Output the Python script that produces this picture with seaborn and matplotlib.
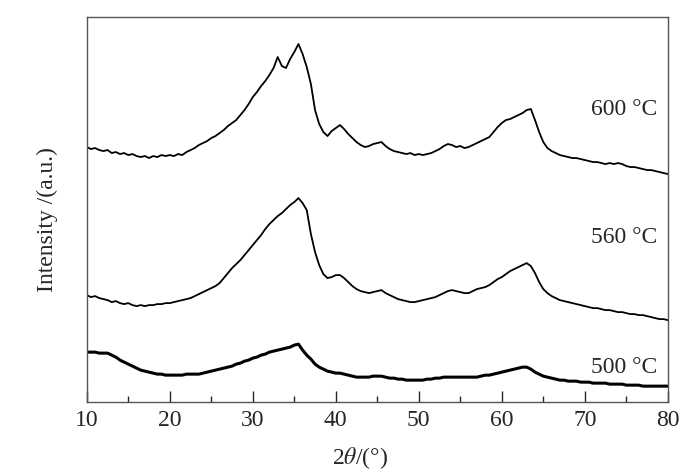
import numpy as np
import pandas as pd
import matplotlib
matplotlib.use('Agg')
import matplotlib.pyplot as plt
import seaborn as sns

# 2theta scan, 0.5 deg steps
two_theta = np.arange(10, 80.5, 0.5)

# intensities (arbitrary units, stacked)
i600 = [255, 253, 254, 252, 251, 252, 249, 250, 248, 249, 247, 248, 246, 245, 246, 244,
        246, 245, 247, 246, 247, 246, 248, 247, 250, 252, 254, 257, 259, 261, 264, 266,
        269, 272, 276, 279, 282, 287, 292, 298, 305, 310, 316, 321, 327, 334, 345, 336,
        334, 343, 350, 358, 348, 335, 318, 292, 278, 270, 266, 271, 274, 277, 273, 268,
        264, 260, 257, 255, 256, 258, 259, 260, 256, 253, 251, 250, 249, 248, 249, 247,
        248, 247, 248, 249, 251, 253, 256, 258, 257, 255, 256, 254, 255, 257, 259, 261,
        263, 265, 270, 275, 279, 282, 283, 285, 287, 289, 292, 293, 282, 270, 260, 254,
        251, 249, 247, 246, 245, 244, 244, 243, 242, 241, 240, 240, 239, 238, 239, 238,
        239, 238, 236, 235, 235, 234, 233, 232, 232, 231, 230, 229, 228]
i560 = [107, 105, 106, 104, 103, 102, 100, 101, 99, 98, 99, 97, 96, 97, 96, 97,
        97, 98, 98, 99, 99, 100, 101, 102, 103, 104, 106, 108, 110, 112, 114, 116,
        119, 124, 129, 134, 138, 142, 147, 152, 157, 162, 167, 173, 178, 182, 186, 189,
        193, 197, 200, 204, 199, 192, 168, 150, 137, 128, 124, 125, 127, 127, 124, 120,
        116, 113, 111, 110, 109, 110, 111, 112, 109, 107, 105, 103, 102, 101, 100, 100,
        101, 102, 103, 104, 105, 107, 109, 111, 112, 111, 110, 109, 109, 111, 113, 114,
        115, 117, 120, 123, 125, 128, 131, 133, 135, 137, 139, 136, 129, 120, 113, 109,
        106, 104, 102, 101, 100, 99, 98, 97, 96, 95, 94, 94, 93, 92, 92, 91,
        90, 90, 89, 88, 88, 87, 87, 86, 85, 84, 83, 83, 82]
i500 = [50, 50, 50, 49, 49, 49, 47, 45, 42, 40, 38, 36, 34, 32, 31, 30,
        29, 28, 28, 27, 27, 27, 27, 27, 28, 28, 28, 28, 29, 30, 31, 32,
        33, 34, 35, 36, 38, 39, 41, 42, 44, 45, 47, 48, 50, 51, 52, 53,
        54, 55, 57, 58, 52, 47, 43, 38, 35, 33, 31, 30, 29, 29, 28, 27,
        26, 25, 25, 25, 25, 26, 26, 26, 25, 24, 24, 23, 23, 22, 22, 22,
        22, 22, 23, 23, 24, 24, 25, 25, 25, 25, 25, 25, 25, 25, 25, 26,
        27, 27, 28, 29, 30, 31, 32, 33, 34, 35, 35, 33, 30, 28, 26, 25,
        24, 23, 22, 22, 21, 21, 21, 20, 20, 20, 19, 19, 19, 19, 18, 18,
        18, 18, 17, 17, 17, 17, 16, 16, 16, 16, 16, 16, 16]

labels = ['600 °C', '560 °C', '500 °C']
label_y = [293, 165, 35]

sns.set_style('white')
plt.rcParams['font.family'] = ['Liberation Serif', 'DejaVu Serif', 'Noto Sans CJK SC']
plt.rcParams['mathtext.fontset'] = 'stix'

df = pd.DataFrame({'x': two_theta, '600': i600, '560': i560, '500': i500})

fig = plt.figure(figsize=(7, 4.72), dpi=100)
ax = fig.add_axes([0.124, 0.148, 0.83, 0.816])

sns.lineplot(data=df, x='x', y='600', ax=ax, color='black', linewidth=1.3)
sns.lineplot(data=df, x='x', y='560', ax=ax, color='black', linewidth=1.3)
sns.lineplot(data=df, x='x', y='500', ax=ax, color='black', linewidth=2.2)

for lab, yy in zip(labels, label_y):
    ax.text(70.7, yy, lab, fontsize=17, va='center', ha='left')

ax.set_xlim(10, 80)
ax.set_ylim(0, 385)
ax.set_xticks(range(10, 81, 10))
ax.set_xticks(range(15, 80, 10), minor=True)
ax.set_yticks([])
ax.tick_params(axis='x', which='major', direction='in', length=8, width=1,
               labelsize=17, pad=6, top=False, bottom=True)
ax.tick_params(axis='x', which='minor', direction='in', length=4, width=1,
               top=False, bottom=True)
for s in ax.spines.values():
    s.set_color('#555555')
    s.set_linewidth(1)

ax.set_xlabel(r'2$\theta$/(°)', fontsize=17)
ax.xaxis.set_label_coords(0.47, -0.112)
ax.set_ylabel('Intensity /(a.u.)', fontsize=17)
ax.yaxis.set_label_coords(-0.05, 0.475)

fig.savefig('out.png', dpi=100)
